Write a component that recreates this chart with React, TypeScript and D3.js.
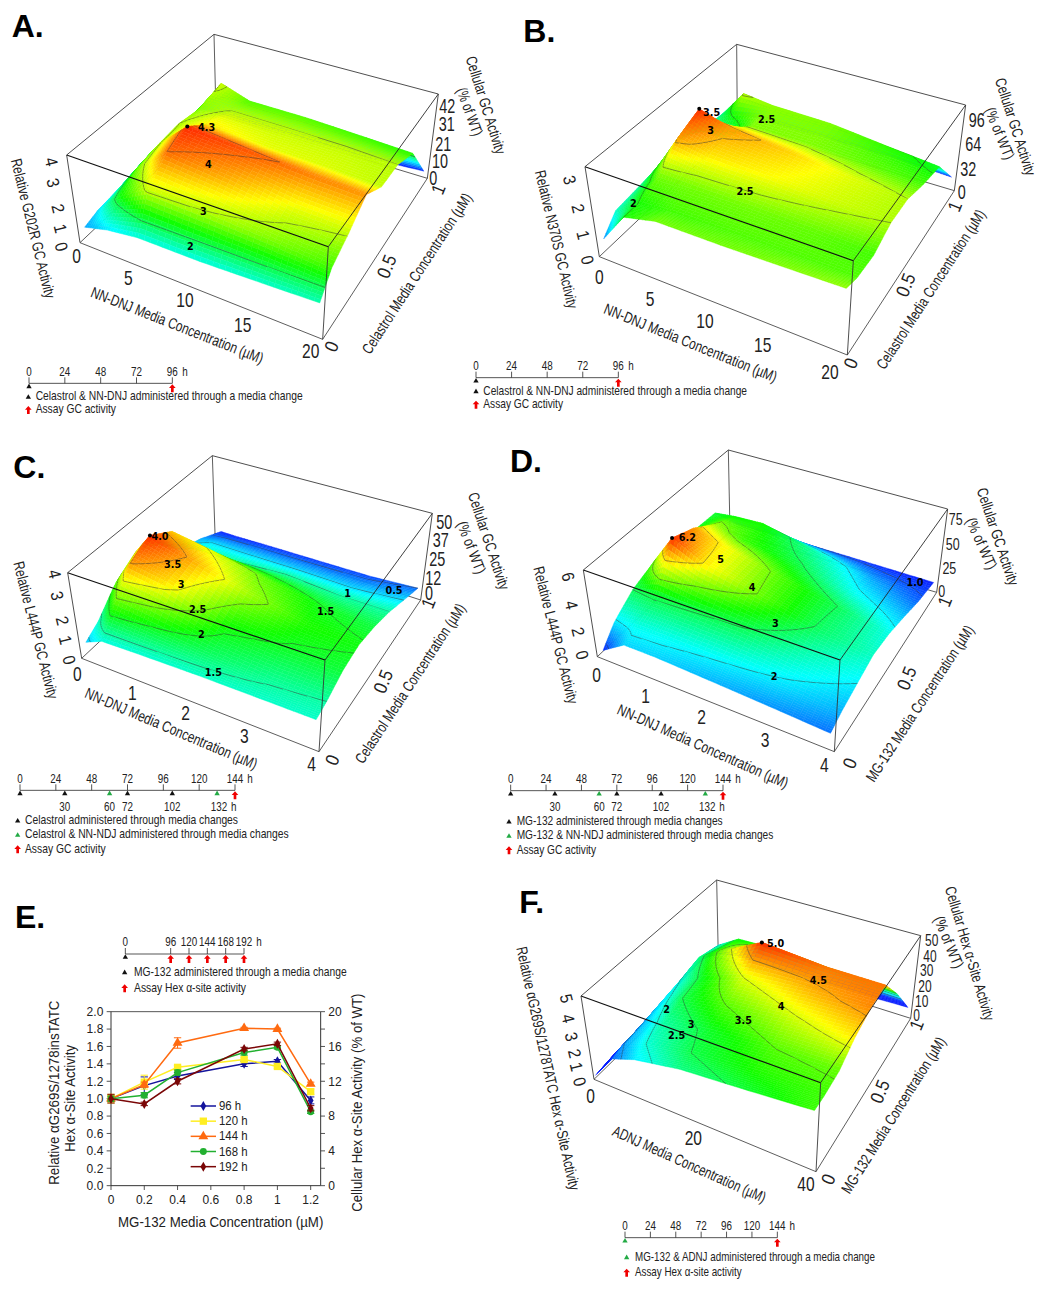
import React from 'react'
import * as d3 from 'd3'

// shared dose rows for the surfaces (drug on the depth axis, uM)
const depthDoses = [0, 0.1, 0.25, 0.4, 0.55, 0.7, 0.85, 1]

// A. G202R
const aDoses = [0.6, 2.5, 5, 10, 15, 19.6]
const aActivity = [
  [0.9, 1.2, 1.4, 1.4, 1.5, 1.6],
  [1.1, 2.2, 3.1, 2.95, 2.75, 2.5],
  [1.2, 2.7, 4.0, 3.65, 3.15, 3.05],
  [1.4, 2.9, 4.3, 4.1, 3.9, 3.8],
  [1.5, 3.0, 3.4, 3.2, 3.15, 3.05],
  [1.5, 2.8, 3.05, 3.05, 3.05, 3.0],
  [1.4, 3.1, 2.6, 2.6, 2.5, 2.4],
  [0.1, 0.1, 0.1, 0.1, 0.15, 0.3]
]
// B. N370S
const bDoses = [0.6, 2.5, 5, 10, 15, 19.6]
const bActivity = [
  [0.8, 2.0, 2.3, 2.3, 2.35, 2.4],
  [1.4, 2.0, 2.15, 2.2, 2.2, 2.2],
  [1.5, 2.3, 2.3, 2.3, 2.25, 2.15],
  [1.6, 3.1, 2.85, 2.75, 2.6, 2.5],
  [1.9, 3.5, 3.1, 2.9, 2.65, 2.5],
  [1.6, 1.5, 2.35, 2.35, 2.25, 2.15],
  [1.4, 2.55, 2.4, 2.35, 2.1, 1.9],
  [0.6, 0.6, 0.6, 0.6, 0.6, 0.5]
]
// C. L444P + celastrol
const cDoses = [0.12, 0.4, 1, 2, 3, 3.92]
const cActivity = [
  [0.9, 1.25, 1.3, 1.35, 1.35, 1.35],
  [1.3, 2.2, 2.0, 1.75, 1.55, 1.5],
  [2.3, 3.5, 3.2, 2.1, 1.95, 1.9],
  [2.9, 4.0, 3.5, 2.7, 2.15, 2.05],
  [2.4, 3.3, 3.0, 2.4, 2.0, 1.85],
  [1.2, 1.5, 1.5, 1.6, 1.5, 1.5],
  [0.8, 0.9, 0.9, 0.9, 0.9, 1.0],
  [0.2, 0.2, 0.25, 0.3, 0.35, 0.5]
]
// D. L444P + MG-132
const dDoses = [0.12, 0.5, 1, 2, 3, 3.92]
const dActivity = [
  [0.7, 1.8, 1.8, 1.6, 1.4, 1.2],
  [1.9, 2.15, 2.1, 2.0, 1.85, 1.6],
  [3.0, 3.1, 3.05, 2.95, 2.4, 2.0],
  [3.6, 6.2, 5.0, 3.9, 2.9, 2.4],
  [3.5, 5.5, 4.9, 3.8, 3.0, 2.2],
  [3.3, 4.3, 3.7, 3.1, 2.2, 1.7],
  [3.2, 3.4, 3.5, 2.5, 1.6, 1.1],
  [0.8, 0.8, 0.8, 0.8, 0.75, 0.7]
]
// F. aG269S/1278TATC
const fDoses = [0.4, 4, 8, 16, 28, 39.2]
const fActivity = [
  [0.3, 1.8, 2.3, 2.8, 3.1, 3.4],
  [0.4, 2.0, 2.5, 3.0, 3.3, 3.4],
  [0.5, 2.1, 2.7, 3.1, 3.5, 3.55],
  [0.6, 2.3, 3.0, 3.5, 3.9, 4.2],
  [0.7, 2.5, 3.1, 4.0, 4.4, 4.6],
  [0.9, 2.8, 3.6, 5.0, 4.7, 4.7],
  [1.1, 2.4, 3.2, 3.3, 3.0, 2.8],
  [0.4, 0.5, 0.5, 0.5, 0.5, 0.6]
]

// E. line chart
const mgDoses = [0, 0.2, 0.4, 0.8, 1, 1.2]
const hours96 = [1.0, 1.15, 1.26, 1.40, 1.43, 0.98]
const hours120 = [1.0, 1.19, 1.36, 1.45, 1.37, 1.08]
const hours144 = [1.0, 1.16, 1.64, 1.81, 1.80, 1.17]
const hours168 = [1.0, 1.04, 1.30, 1.53, 1.59, 0.85]
const hours192 = [1.0, 0.94, 1.20, 1.57, 1.63, 0.89]
const err96 = [0.02, 0.1, 0.04, 0.03, 0.02, 0.04]
const err120 = [0.05, 0.08, 0.02, 0.02, 0.02, 0.03]
const err144 = [0.03, 0.03, 0.06, 0.01, 0.01, 0.02]
const err168 = [0.03, 0.03, 0.03, 0.03, 0.02, 0.02]
const err192 = [0.05, 0.02, 0.03, 0.02, 0.02, 0.03]
const seriesLabels = ['96 h', '120 h', '144 h', '168 h', '192 h']

const FONT = '"Liberation Sans", Arial, sans-serif'
const SUB = 10

type P = [number, number]
const mix = (a: P, b: P, t: number): P => [a[0] + (b[0] - a[0]) * t, a[1] + (b[1] - a[1]) * t]

interface Lbl { t: string, x: number, y: number }
interface Ttl { t: string, x: number, y: number, a: number, len: number }
interface Panel {
  letter: string, letterAt: P, origin: P,
  xs: number[], xMax: number, yMax: number, zMax: number, grid: number[][],
  colorMin: number, colorMax: number, levels: number[],
  g00: P, g10: P, g11: P, g01: P, t00: P, t10: P, t11: P, t01: P,
  contourLabels: Lbl[], peakLabel: Lbl,
  xTicks: Lbl[], yTicks: Lbl[], zTicks: Lbl[], pctTicks: Lbl[], pctSize?: number,
  titles: Ttl[], timeline: React.ReactNode
}

const Txt = ({ x, y, a = 0, size = 36, sx = 1, fill = '#222', anchor = 'middle', len, children, weight, family }: any) => (
  <text transform={`translate(${x},${y}) rotate(${a}) scale(${sx},1)`} textAnchor={anchor} fontSize={size} fill={fill}
    fontFamily={family ?? FONT} fontWeight={weight} dominantBaseline={anchor === 'middle' ? 'central' : undefined}
    {...(len ? { textLength: len, lengthAdjust: 'spacingAndGlyphs' } : {})}>{children}</text>
)

const triangle = d3.symbol().type(d3.symbolTriangle).size(110)()!
const arrow = 'M0,-13 L10,-2 L4,-2 L4,11 L-4,11 L-4,-2 L-10,-2 Z'

const Mark = ({ x, y, kind }: { x: number, y: number, kind: string }) =>
  kind === 'red'
    ? <path d={arrow} transform={`translate(${x},${y})`} fill="#f00000" />
    : <path d={triangle} transform={`translate(${x},${y})`} fill={kind === 'green' ? '#22aa44' : '#111'} />

interface TimelineProps {
  y: number, domain: number[], range: number[], ticks: number[], lower?: number[],
  black?: number[], green?: number[], red: number[],
  legend: { kind: string, text: string, markX: number, x: number, y: number, end: number }[]
}
const Timeline = ({ y, domain, range, ticks, lower = [], black = [], green = [], red, legend }: TimelineProps) => {
  const h = d3.scaleLinear().domain(domain).range(range)
  const last = ticks[ticks.length - 1]
  const unitGap = last < 100 ? 38 : 45
  return (
    <g>
      <line x1={h(domain[0])} x2={h(last)} y1={y} y2={y} stroke="#333" strokeWidth={2.5} />
      {ticks.map(t => (
        <g key={t}>
          <line x1={h(t)} x2={h(t)} y1={y - 18} y2={y} stroke="#333" strokeWidth={2.5} />
          <Txt x={h(t)} y={y - 38} size={40} sx={0.74}>{t}</Txt>
        </g>
      ))}
      <Txt x={h(last) + unitGap} y={y - 38} size={40} sx={0.74}>h</Txt>
      {lower.map((t, i) => (
        <g key={t + 'l'}>
          <Txt x={h(t) + (i === lower.length - 1 ? 6 : 0)} y={y + 47} size={40} sx={0.74}>{t}</Txt>
          {i === lower.length - 1 && <Txt x={h(t) + 50} y={y + 47} size={40} sx={0.74}>h</Txt>}
        </g>
      ))}
      {black.map(t => <Mark key={t} x={h(t)} y={y + 10} kind="black" />)}
      {green.map(t => <Mark key={t} x={h(t)} y={y + 10} kind="green" />)}
      {red.map(t => <Mark key={t} x={h(t)} y={y + 16} kind="red" />)}
      {legend.map(l => (
        <g key={l.text}>
          <Mark x={l.markX} y={l.y - 9} kind={l.kind} />
          <text x={l.x} y={l.y} fontSize={39} fill="#222" fontFamily={FONT} textLength={l.end - l.x} lengthAdjust="spacingAndGlyphs">{l.text}</text>
        </g>
      ))}
    </g>
  )
}

const Surface3D = ({ p }: { p: Panel }) => {
  const nc = p.xs.length
  const nr = depthDoses.length
  const colToX = d3.scaleLinear().domain(d3.range(nc)).range(p.xs)
  const rowToY = d3.scaleLinear().domain(d3.range(nr)).range(depthDoses)
  const uScale = d3.scaleLinear().domain([0, p.xMax]).range([0, 1])
  const vScale = d3.scaleLinear().domain([0, p.yMax]).range([0, 1])
  const wScale = d3.scaleLinear().domain([0, p.zMax]).range([0, 1])
  const project = (x: number, y: number, z: number): P => {
    const u = uScale(x), v = vScale(y), w = wScale(z)
    const g = mix(mix(p.g00, p.g10, u), mix(p.g01, p.g11, u), v)
    const t = mix(mix(p.t00, p.t10, u), mix(p.t01, p.t11, u), v)
    return mix(g, t, w)
  }
  const stops = d3.range(5).map(i => p.colorMin + (p.colorMax - p.colorMin) * i / 4)
  const color = d3.scaleLinear<string>().domain(stops).range(['#0a20ff', '#00ffff', '#10ff00', '#ffff00', '#ff2a00']).clamp(true)

  const zAt = (cf: number, rf: number) => {
    const i = Math.min(Math.floor(cf), nc - 2), j = Math.min(Math.floor(rf), nr - 2)
    const a = cf - i, b = rf - j
    const g = p.grid
    return (g[j][i] * (1 - a) + g[j][i + 1] * a) * (1 - b) + (g[j + 1][i] * (1 - a) + g[j + 1][i + 1] * a) * b
  }
  const fw = (nc - 1) * SUB + 1
  const fh = (nr - 1) * SUB + 1
  const values = new Array(fw * fh)
  for (let j = 0; j < fh; j++) for (let i = 0; i < fw; i++) values[i + j * fw] = zAt(i / SUB, j / SUB)
  const pt = (i: number, j: number) => {
    const s = project(colToX(i / SUB), rowToY(j / SUB), values[i + j * fw])
    return `${s[0].toFixed(1)},${s[1].toFixed(1)}`
  }

  // contour lines, kept per fine row so nearer rows can hide them
  const rowSegs: string[] = new Array(fh).fill('')
  d3.contours().size([fw, fh]).thresholds(p.levels)(values).forEach(c => {
    c.coordinates.forEach(poly => poly.forEach(ring => {
      for (let k = 1; k < ring.length; k++) {
        const [a, b] = [ring[k - 1], ring[k]]
        if ([a[0], b[0]].some(q => q < 0.5 || q > fw - 0.5) || [a[1], b[1]].some(q => q < 0.5 || q > fh - 0.5)) continue
        const sa = project(colToX((a[0] - 0.5) / SUB), rowToY((a[1] - 0.5) / SUB), c.value)
        const sb = project(colToX((b[0] - 0.5) / SUB), rowToY((b[1] - 0.5) / SUB), c.value)
        const row = Math.min(fh - 2, Math.floor((a[1] + b[1]) / 2 - 0.5))
        rowSegs[row] += `M${sa[0].toFixed(1)},${sa[1].toFixed(1)}L${sb[0].toFixed(1)},${sb[1].toFixed(1)}`
      }
    }))
  })

  const surface: React.ReactNode[] = []
  for (let j = fh - 2; j >= 0; j--) {
    for (let i = 0; i < fw - 1; i++) {
      const mean = (values[i + j * fw] + values[i + 1 + j * fw] + values[i + (j + 1) * fw] + values[i + 1 + (j + 1) * fw]) / 4
      const c = color(mean)
      surface.push(<path key={`${i}-${j}`} d={`M${pt(i, j)}L${pt(i + 1, j)}L${pt(i + 1, j + 1)}L${pt(i, j + 1)}Z`} fill={c} stroke={c} strokeWidth={1.2} />)
    }
    if (rowSegs[j]) surface.push(<path key={`c${j}`} d={rowSegs[j]} fill="none" stroke="#3a3a3a" strokeWidth={1.8} strokeOpacity={0.85} />)
  }

  const peak = d3.greatest(p.grid.flatMap((row, j) => row.map((z, i) => ({ z, i, j }))), d => d.z)!
  const dot = project(p.xs[peak.i], depthDoses[peak.j], peak.z)
  const seg = (a: P, b: P, w: number, s: string, key: string) => <line key={key} x1={a[0]} y1={a[1]} x2={b[0]} y2={b[1]} stroke={s} strokeWidth={w} />

  return (
    <g transform={`translate(${p.origin[0]},${p.origin[1]}) scale(${1 / 3})`}>
      <text x={p.letterAt[0]} y={p.letterAt[1]} fontSize={96} fontWeight="bold" fontFamily={FONT} fill="#000">{p.letter}.</text>
      {seg(p.t00, p.t01, 2.6, '#333', 'b1')}{seg(p.t01, p.t11, 2.6, '#333', 'b2')}{seg(p.t01, p.g01, 2.6, '#444', 'b3')}
      {seg(p.g00, p.g01, 2.6, '#444', 'b4')}{seg(p.g01, p.g11, 2.6, '#444', 'b5')}{seg(p.g00, p.g10, 2.6, '#444', 'b6')}{seg(p.g10, p.g11, 2.6, '#444', 'b7')}
      {surface}
      {seg(p.t00, p.t10, 3.4, '#111', 'f1')}{seg(p.t10, p.t11, 2.6, '#222', 'f2')}{seg(p.t00, p.g00, 2.6, '#333', 'f3')}{seg(p.t10, p.g10, 2.6, '#333', 'f4')}{seg(p.t11, p.g11, 2.6, '#333', 'f5')}
      <circle cx={dot[0]} cy={dot[1]} r={6} fill="#000" />
      <Txt x={p.peakLabel.x} y={p.peakLabel.y} size={29} weight="bold" fill="#000" family='"DejaVu Sans"'>{p.peakLabel.t}</Txt>
      {p.contourLabels.map((l, i) => <Txt key={i} x={l.x} y={l.y} size={29} weight="bold" fill="#000" family='"DejaVu Sans"'>{l.t}</Txt>)}
      {p.xTicks.map(l => <Txt key={l.t} x={l.x} y={l.y} size={60} sx={0.78}>{l.t}</Txt>)}
      {p.pctTicks.map(l => <Txt key={l.t} x={l.x} y={l.y} size={p.pctSize ?? 60} sx={0.72}>{l.t}</Txt>)}
      {p.yTicks.map(l => <Txt key={l.t} x={l.x} y={l.y} a={-68} size={56} sx={0.9}>{l.t}</Txt>)}
      {p.zTicks.map(l => <Txt key={l.t} x={l.x} y={l.y} a={76} size={52} sx={0.9}>{l.t}</Txt>)}
      {p.titles.map(t => <Txt key={t.t} x={t.x} y={t.y} a={t.a} size={46} len={t.len}>{t.t}</Txt>)}
      {p.timeline}
    </g>
  )
}

const lbl = (pairs: [string, number, number][]): Lbl[] => pairs.map(([t, x, y]) => ({ t, x, y }))
const ttl = (t: string, x: number, y: number, a: number, len: number): Ttl => ({ t, x, y, a, len })

const panels: Panel[] = [
  {
    letter: 'A', letterAt: [35, 110], origin: [0, 0], xs: aDoses, xMax: 20, yMax: 1, zMax: 4.3, grid: aActivity,
    colorMin: 0.3, colorMax: 4.3, levels: [2, 3, 4],
    g00: [240, 728], g10: [968, 1018], g11: [1282, 535], g01: [648, 343],
    t00: [200, 465], t10: [985, 740], t11: [1315, 282], t01: [642, 103],
    contourLabels: lbl([['2', 571, 740], ['3', 610, 633], ['4', 625, 493]]), peakLabel: { t: '4.3', x: 620, y: 382 },
    xTicks: lbl([['0', 230, 770], ['5', 385, 835], ['10', 555, 900], ['15', 728, 975], ['20', 932, 1055]]),
    yTicks: lbl([['0', 995, 1040], ['0.5', 1160, 800], ['1', 1315, 568]]),
    zTicks: lbl([['0', 185, 740], ['1', 182, 685], ['2', 175, 625], ['3', 160, 548], ['4', 155, 485]]),
    pctTicks: lbl([['0', 1300, 535], ['10', 1320, 483], ['21', 1330, 432], ['31', 1340, 373], ['42', 1342, 317]]),
    titles: [
      ttl('NN-DNJ Media Concentration (µM)', 532, 975, 21.5, 552), ttl('Celastrol Media Concentration (µM)', 1250, 820, -57, 565),
      ttl('Relative G202R GC Activity', 100, 685, 76, 430), ttl('Cellular GC Activity', 1458, 315, 72.5, 305), ttl('(% of WT)', 1410, 335, 70, 150)
    ],
    timeline: <Timeline y={1150} domain={[0, 96]} range={[87, 517]} ticks={[0, 24, 48, 72, 96]} black={[0]} red={[96]} legend={[
      { kind: 'black', text: 'Celastrol & NN-DNJ administered through a media change', markX: 85, x: 107, y: 1201, end: 908 },
      { kind: 'red', text: 'Assay GC activity', markX: 85, x: 107, y: 1240, end: 348 }]} />
  },
  {
    letter: 'B', letterAt: [10, 125], origin: [520, 0], xs: bDoses, xMax: 20, yMax: 1, zMax: 3.5, grid: bActivity,
    colorMin: 0.5, colorMax: 3.5, levels: [2, 2.5, 3],
    g00: [238, 770], g10: [982, 1065], g11: [1303, 572], g01: [652, 378],
    t00: [195, 500], t10: [1000, 782], t11: [1337, 315], t01: [650, 133],
    contourLabels: lbl([['2', 340, 610], ['2.5', 675, 575], ['2.5', 740, 357], ['3', 572, 392]]), peakLabel: { t: '3.5', x: 575, y: 338 },
    xTicks: lbl([['0', 238, 833], ['5', 390, 898], ['10', 555, 965], ['15', 728, 1037], ['20', 930, 1118]]),
    yTicks: lbl([['0', 993, 1090], ['0.5', 1157, 855], ['1', 1305, 620]]),
    zTicks: lbl([['0', 203, 780], ['1', 190, 705], ['2', 175, 625], ['3', 150, 540]]),
    pctTicks: lbl([['0', 1325, 575], ['32', 1345, 507], ['64', 1360, 433], ['96', 1370, 360]]),
    titles: [
      ttl('NN-DNJ Media Concentration (µM)', 512, 1028, 22, 555), ttl('Celastrol Media Concentration (µM)', 1232, 868, -57, 560),
      ttl('Relative N370S GC Activity', 110, 718, 76.5, 425), ttl('Cellular GC Activity', 1487, 380, 72, 305), ttl('(% of WT)', 1440, 400, 68, 165)
    ],
    timeline: <Timeline y={1133} domain={[0, 96]} range={[-132, 295]} ticks={[0, 24, 48, 72, 96]} black={[0]} red={[96]} legend={[
      { kind: 'black', text: 'Celastrol & NN-DNJ administered through a media change', markX: -132, x: -110, y: 1184, end: 681 },
      { kind: 'red', text: 'Assay GC activity', markX: -132, x: -110, y: 1224, end: 129 }]} />
  },
  {
    letter: 'C', letterAt: [40, 145], origin: [0, 430], xs: cDoses, xMax: 4, yMax: 1, zMax: 4.1, grid: cActivity,
    colorMin: 0.2, colorMax: 4.0, levels: [0.5, 1, 1.5, 2, 2.5, 3, 3.5],
    g00: [245, 685], g10: [957, 965], g11: [1262, 510], g01: [645, 310],
    t00: [203, 428], t10: [975, 690], t11: [1297, 250], t01: [637, 77],
    contourLabels: lbl([['0.5', 1182, 481], ['1', 1043, 491], ['1.5', 977, 544], ['1.5', 640, 728], ['2', 604, 612], ['2.5', 593, 537], ['3', 543, 464], ['3.5', 518, 404]]),
    peakLabel: { t: '4.0', x: 480, y: 318 },
    xTicks: lbl([['0', 232, 733], ['1', 397, 790], ['2', 557, 850], ['3', 733, 918], ['4', 935, 1003]]),
    yTicks: lbl([['0', 997, 990], ['0.5', 1150, 755], ['1', 1285, 520]]),
    zTicks: lbl([['0', 208, 690], ['1', 197, 630], ['2', 188, 572], ['3', 172, 497], ['4', 165, 432]]),
    pctTicks: lbl([['0', 1287, 490], ['12', 1300, 445], ['25', 1312, 387], ['37', 1322, 330], ['50', 1333, 275]]),
    titles: [
      ttl('NN-DNJ Media Concentration (µM)', 514, 895, 23, 557), ttl('Celastrol Media Concentration (µM)', 1230, 760, -56.6, 563),
      ttl('Relative L444P GC Activity', 108, 600, 75.6, 423), ttl('Cellular GC Activity', 1467, 333, 71.5, 305), ttl('(% of WT)', 1415, 352, 68.8, 165)
    ],
    timeline: <Timeline y={1081} domain={[0, 144]} range={[60, 705]} ticks={[0, 24, 48, 72, 96, 120, 144]} lower={[30, 60, 72, 102, 132]} black={[0, 30, 72, 102]} green={[60, 132]} red={[144]} legend={[
      { kind: 'black', text: 'Celastrol administered through media changes', markX: 53, x: 75, y: 1182, end: 714 },
      { kind: 'green', text: 'Celastrol & NN-NDJ administered through media changes', markX: 53, x: 75, y: 1225, end: 866 },
      { kind: 'red', text: 'Assay GC activity', markX: 53, x: 75, y: 1268, end: 317 }]} />
  },
  {
    letter: 'D', letterAt: [-30, 125], origin: [520, 430], xs: dDoses, xMax: 4, yMax: 1, zMax: 6.7, grid: dActivity,
    colorMin: 0.7, colorMax: 6.2, levels: [1, 2, 3, 4, 5],
    g00: [232, 680], g10: [943, 965], g11: [1250, 487], g01: [630, 305],
    t00: [190, 420], t10: [960, 690], t11: [1283, 237], t01: [625, 60],
    contourLabels: lbl([['1.0', 1185, 458], ['2', 762, 738], ['3', 766, 580], ['4', 696, 472], ['5', 602, 387]]), peakLabel: { t: '6.2', x: 502, y: 323 },
    xTicks: lbl([['0', 230, 735], ['1', 377, 798], ['2', 545, 863], ['3', 735, 930], ['4', 913, 1005]]),
    yTicks: lbl([['0', 990, 1000], ['0.5', 1160, 745], ['1', 1275, 515]]),
    zTicks: lbl([['0', 187, 675], ['2', 175, 605], ['4', 155, 525], ['6', 145, 440]]),
    pctTicks: lbl([['0', 1265, 482], ['25', 1288, 413], ['50', 1298, 340], ['75', 1307, 265]]), pctSize: 52,
    titles: [
      ttl('NN-DNJ Media Concentration (µM)', 549, 948, 23.9, 556), ttl('MG-132 Media Concentration (µM)', 1199, 820, -56.7, 550),
      ttl('Relative L444P GC Activity', 108, 615, 75.6, 423), ttl('Cellular GC Activity', 1434, 320, 71.3, 306), ttl('(% of WT)', 1385, 340, 66, 165)
    ],
    timeline: <Timeline y={1082} domain={[0, 144]} range={[-28, 609]} ticks={[0, 24, 48, 72, 96, 120, 144]} lower={[30, 60, 72, 102, 132]} black={[0, 30, 72, 102]} green={[60, 132]} red={[144]} legend={[
      { kind: 'black', text: 'MG-132 administered through media changes', markX: -33, x: -10, y: 1185, end: 608 },
      { kind: 'green', text: 'MG-132 & NN-NDJ administered through media changes', markX: -33, x: -10, y: 1228, end: 760 },
      { kind: 'red', text: 'Assay GC activity', markX: -33, x: -10, y: 1271, end: 228 }]} />
  },
  {
    letter: 'F', letterAt: [58, 128], origin: [500, 870], xs: fDoses, xMax: 40, yMax: 1, zMax: 5.1, grid: fActivity,
    colorMin: 1.5, colorMax: 5.0, levels: [2, 2.5, 3, 3.5, 4, 4.5],
    g00: [282, 628], g10: [948, 905], g11: [1232, 445], g01: [655, 263],
    t00: [243, 378], t10: [962, 638], t11: [1262, 197], t01: [650, 30],
    contourLabels: lbl([['2', 500, 418], ['2.5', 530, 495], ['3', 573, 463], ['3.5', 730, 452], ['4', 843, 408], ['4.5', 955, 332]]), peakLabel: { t: '5.0', x: 827, y: 220 },
    xTicks: lbl([['0', 272, 680], ['20', 580, 805], ['40', 918, 942]]),
    yTicks: lbl([['0', 985, 928], ['0.5', 1140, 665], ['1', 1250, 465]]),
    zTicks: lbl([['0', 240, 635], ['1', 230, 590], ['2', 225, 550], ['3', 215, 500], ['4', 205, 445], ['5', 200, 385]]),
    pctTicks: lbl([['0', 1250, 437], ['10', 1265, 393], ['20', 1275, 350], ['30', 1280, 300], ['40', 1290, 258], ['50', 1295, 210]]), pctSize: 50,
    titles: [
      ttl('ADNJ Media Concentration (µM)', 568, 882, 24.2, 499), ttl('MG-132 Media Concentration (µM)', 1180, 735, -57.8, 545),
      ttl('Relative αG269S/1278TATC Hex α-Site Activity', 145, 595, 77.6, 747), ttl('Cellular Hex α-Site Activity', 1410, 250, 73.3, 418), ttl('(% of WT)', 1347, 216, 67.5, 165)
    ],
    timeline: <Timeline y={1103} domain={[0, 144]} range={[375, 832]} ticks={[0, 24, 48, 72, 96, 120, 144]} green={[0]} red={[144]} legend={[
      { kind: 'green', text: 'MG-132 & ADNJ administered through a media change', markX: 380, x: 405, y: 1172, end: 1125 },
      { kind: 'red', text: 'Assay Hex α-site activity', markX: 380, x: 405, y: 1218, end: 725 }]} />
  }
]

const PanelE = () => {
  const x = d3.scaleLinear().domain([0, 1.26]).range([333, 962])
  const y = d3.scaleLinear().domain([0, 2]).range([917, 395])
  const yr = d3.scaleLinear().domain([0, 20]).range([917, 395])
  const line = d3.line<number>().x((_, i) => x(mgDoses[i])).y(d => y(d))
  const series = [
    { v: hours96, e: err96, c: '#14149c', s: d3.symbolDiamond, size: 260 },
    { v: hours120, e: err120, c: '#ffee22', s: d3.symbolSquare, size: 480 },
    { v: hours144, e: err144, c: '#ff6a10', s: d3.symbolTriangle, size: 380 },
    { v: hours168, e: err168, c: '#22b030', s: d3.symbolCircle, size: 340 },
    { v: hours192, e: err192, c: '#7a0606', s: d3.symbolDiamond, size: 260 }
  ]
  const mark = (s: any, size: number) => d3.symbol().type(s).size(size)()!
  return (
    <g transform={`translate(0,880) scale(${1 / 3})`}>
      <text x={45} y={143} fontSize={96} fontWeight="bold" fontFamily={FONT} fill="#000">E.</text>
      <Timeline y={222} domain={[0, 96, 192]} range={[376, 512, 732]} ticks={[0, 96, 120, 144, 168, 192]} black={[0]} red={[96, 120, 144, 168, 192]} legend={[
        { kind: 'black', text: 'MG-132 administered through a media change', markX: 374, x: 402, y: 287, end: 1040 },
        { kind: 'red', text: 'Assay Hex α-site activity', markX: 374, x: 402, y: 335, end: 738 }]} />
      <line x1={x(0)} x2={x(1.26)} y1={395} y2={395} stroke="#333" strokeWidth={2.5} />
      <line x1={x(0)} x2={x(1.26)} y1={917} y2={917} stroke="#333" strokeWidth={3} />
      <line x1={333} x2={333} y1={395} y2={917} stroke="#333" strokeWidth={3} />
      <line x1={962} x2={962} y1={395} y2={917} stroke="#333" strokeWidth={3} />
      {d3.range(0, 2.01, 0.2).map(t => (
        <g key={t}>
          <line x1={320} x2={333} y1={y(t)} y2={y(t)} stroke="#333" strokeWidth={2.5} />
          <Txt x={310} y={y(t)} size={38} anchor="end" sx={0.95}><tspan dy={13}>{t.toFixed(1)}</tspan></Txt>
        </g>
      ))}
      {d3.range(0, 20.1, 2).map((t, i) => (
        <g key={t}>
          <line x1={962} x2={975} y1={yr(t)} y2={yr(t)} stroke="#333" strokeWidth={2.5} />
          {i % 2 === 0 && <Txt x={985} y={yr(t)} size={38} anchor="start" sx={0.95}><tspan dy={13}>{t}</tspan></Txt>}
        </g>
      ))}
      {[0, 0.2, 0.4, 0.6, 0.8, 1, 1.2].map(t => (
        <g key={t}>
          <line x1={x(t)} x2={x(t)} y1={917} y2={930} stroke="#333" strokeWidth={2.5} />
          <Txt x={x(t)} y={960} size={38} sx={0.95}>{t}</Txt>
        </g>
      ))}
      {series.map((s, k) => (
        <g key={k}>
          <path d={line(s.v)!} fill="none" stroke={s.c} strokeWidth={4.5} />
          {s.v.map((d, i) => (
            <g key={i} stroke={s.c} strokeWidth={3}>
              <line x1={x(mgDoses[i])} x2={x(mgDoses[i])} y1={y(d - s.e[i])} y2={y(d + s.e[i])} />
              <line x1={x(mgDoses[i]) - 11} x2={x(mgDoses[i]) + 11} y1={y(d + s.e[i])} y2={y(d + s.e[i])} />
              <line x1={x(mgDoses[i]) - 11} x2={x(mgDoses[i]) + 11} y1={y(d - s.e[i])} y2={y(d - s.e[i])} />
              <path d={mark(s.s, s.size)} transform={`translate(${x(mgDoses[i])},${y(d)})`} fill={s.c} stroke="none" />
            </g>
          ))}
          <line x1={572} x2={648} y1={678 + k * 45.5} y2={678 + k * 45.5} stroke={s.c} strokeWidth={4.5} />
          <path d={mark(s.s, s.size)} transform={`translate(610,${678 + k * 45.5})`} fill={s.c} />
          <Txt x={657} y={678 + k * 45.5} size={36} anchor="start" sx={0.95}><tspan dy={12}>{seriesLabels[k]}</tspan></Txt>
        </g>
      ))}
      <Txt x={662} y={1026} size={42} len={616}>MG-132 Media Concentration (µM)</Txt>
      <Txt x={163} y={638} a={-90} size={42} len={553}>Relative αG269S/1278insTATC</Txt>
      <Txt x={210} y={655} a={-90} size={42} len={320}>Hex α-Site Activity</Txt>
      <Txt x={1072} y={668} a={-90} size={42} len={655}>Cellular Hex α-Site Activity (% of WT)</Txt>
    </g>
  )
}

export default function App() {
  return (
    <svg width={1050} height={1296} viewBox="0 0 1050 1296" style={{ position: 'absolute', left: 0, top: 0, background: '#fff' }}>
      {panels.map(p => <Surface3D key={p.letter} p={p} />)}
      <PanelE />
    </svg>
  )
}
